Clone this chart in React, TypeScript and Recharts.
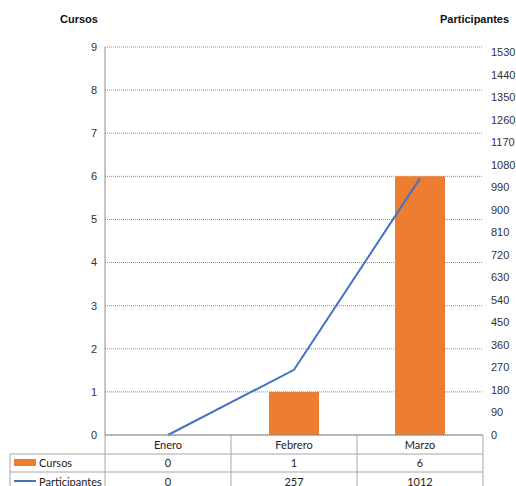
import React from "react";
import {
  ComposedChart,
  Bar,
  Line,
  XAxis,
  YAxis,
  CartesianGrid,
  Customized,
} from "recharts";

const months = ["Enero", "Febrero", "Marzo"];
const cursos = [0, 1, 6];
const participantes = [0, 257, 1012];
const cursosTicks = [0, 1, 2, 3, 4, 5, 6, 7, 8, 9];
const participantesTicks = [
  0, 90, 180, 270, 360, 450, 540, 630, 720, 810, 900, 990, 1080, 1170, 1260,
  1350, 1440, 1530,
];

const data = months.map((mes, i) => ({
  mes,
  cursos: cursos[i],
  participantes: participantes[i],
}));

const W = 516;
const H = 486;
const PLOT_LEFT = 105;
const PLOT_RIGHT = 483;
const PLOT_TOP = 47;
const PLOT_BOTTOM = 435;
const HALF_BAND = (PLOT_RIGHT - PLOT_LEFT) / months.length / 2;
const ROW1 = 454;
const ROW2 = 472;

const ORANGE = "#ED7D31";
const BLUE = "#4472C4";
const BORDER = "#a6a6a6";
const AXIS_FONT = "'Liberation Sans', Arial, sans-serif";
const TABLE_FONT = "Lato, 'Open Sans', sans-serif";

// x-axis tick doubles as a column of the data table
const TableTick = (props: any) => {
  const { x, payload, index } = props;
  const txt = { fontFamily: TABLE_FONT, fontSize: 11, fill: "#222", textAnchor: "middle" as const };
  return (
    <g>
      <text x={x} y={449} {...txt}>{payload.value}</text>
      <text x={x} y={467} {...txt}>{cursos[index]}</text>
      <text x={x} y={485.5} {...txt}>{participantes[index]}</text>
      <line x1={x + HALF_BAND} x2={x + HALF_BAND} y1={PLOT_BOTTOM} y2={H} stroke={BORDER} />
    </g>
  );
};

const TableFrame = () => (
  <g>
    <line x1={10} x2={PLOT_RIGHT} y1={ROW1} y2={ROW1} stroke={BORDER} />
    <line x1={10} x2={PLOT_RIGHT} y1={ROW2} y2={ROW2} stroke={BORDER} />
    <line x1={10} x2={10} y1={ROW1} y2={H} stroke={BORDER} />
    <line x1={PLOT_LEFT} x2={PLOT_LEFT} y1={PLOT_BOTTOM} y2={H} stroke={BORDER} />
    <rect x={14} y={459} width={22} height={7} fill={ORANGE} />
    <text x={39} y={467} fontFamily={TABLE_FONT} fontSize={11} fill="#222">Cursos</text>
    <line x1={14} x2={36} y1={481} y2={481} stroke={BLUE} strokeWidth={2} />
    <text x={39} y={485.5} fontFamily={TABLE_FONT} fontSize={11} fill="#222">Participantes</text>
    <text x={60} y={23} fontFamily={AXIS_FONT} fontSize={11} fontWeight="bold" fill="#111">Cursos</text>
    <text x={440} y={23} fontFamily={AXIS_FONT} fontSize={11} fontWeight="bold" fill="#111">Participantes</text>
  </g>
);

export default function App() {
  const tickStyle = { fontFamily: AXIS_FONT, fontSize: 11, fill: "#333" };
  return (
    <div style={{ position: "absolute", left: 0, top: 0, width: W, height: H }}>
      <ComposedChart
        width={W}
        height={H}
        data={data}
        margin={{ top: PLOT_TOP, right: 0, bottom: 0, left: 0 }}
      >
        <CartesianGrid
          vertical={false}
          stroke="#8c8c8c"
          strokeDasharray="1 1"
          yAxisId="cursos"
        />
        <XAxis
          dataKey="mes"
          height={H - PLOT_BOTTOM}
          axisLine={{ stroke: "#8c8c8c" }}
          tickLine={false}
          tick={<TableTick />}
          interval={0}
        />
        <YAxis
          yAxisId="cursos"
          orientation="left"
          width={PLOT_LEFT}
          domain={[0, 9]}
          ticks={cursosTicks}
          axisLine={{ stroke: "#8c8c8c" }}
          tickLine={false}
          tickMargin={2}
          tick={tickStyle}
        />
        <YAxis
          yAxisId="labels"
          orientation="right"
          width={W - PLOT_RIGHT}
          domain={[0, 1552]}
          ticks={participantesTicks}
          axisLine={false}
          tickLine={false}
          tickMargin={2}
          tick={{ ...tickStyle, textAnchor: "start" }}
          allowDataOverflow
        />
        <YAxis yAxisId="participantes" orientation="right" domain={[0, 1530]} hide />
        <Bar
          yAxisId="cursos"
          dataKey="cursos"
          fill={ORANGE}
          barSize={50}
          isAnimationActive={false}
        />
        <Line
          yAxisId="participantes"
          dataKey="participantes"
          stroke={BLUE}
          strokeWidth={2}
          dot={false}
          type="linear"
          isAnimationActive={false}
        />
        <Customized component={TableFrame} />
      </ComposedChart>
    </div>
  );
}
